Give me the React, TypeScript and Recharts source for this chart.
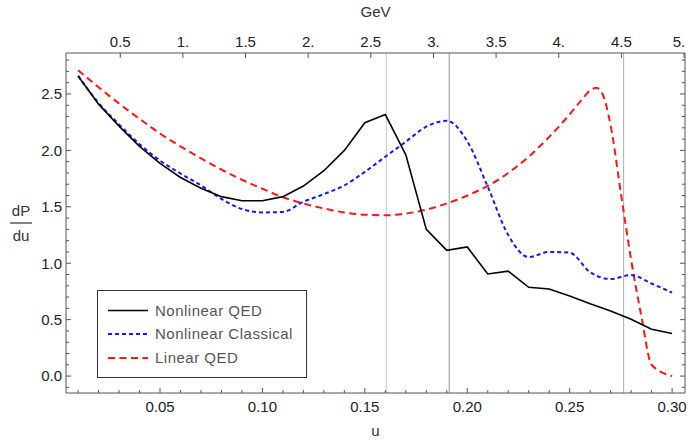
import { LineChart, Line, XAxis, YAxis, ReferenceLine, Legend, Label } from "recharts";

// photon spectrum dP/du, sampled in u
const uValues = [
  0.01, 0.02, 0.03, 0.04, 0.05, 0.06, 0.07, 0.08, 0.09, 0.1,
  0.11, 0.12, 0.13, 0.14, 0.15, 0.16, 0.17, 0.18, 0.19, 0.2,
  0.21, 0.22, 0.23, 0.24, 0.25, 0.26, 0.27, 0.28, 0.29, 0.3,
];
const nonlinearQED = [
  2.66, 2.41, 2.215, 2.035, 1.885, 1.76, 1.665, 1.59, 1.554, 1.554,
  1.59, 1.684, 1.82, 2.0, 2.245, 2.317, 1.96, 1.3, 1.114, 1.144,
  0.905, 0.93, 0.787, 0.772, 0.71, 0.64, 0.577, 0.503, 0.415, 0.378,
];
const nonlinearClassical = [
  2.66, 2.42, 2.23, 2.055, 1.91, 1.795, 1.69, 1.57, 1.48, 1.45,
  1.455, 1.545, 1.613, 1.69, 1.81, 1.944, 2.077, 2.21, 2.263, 2.08,
  1.678, 1.25, 1.055, 1.1, 1.093, 0.92, 0.86, 0.895, 0.82, 0.74,
];
const linearU = [
  0.01, 0.02, 0.03, 0.04, 0.05, 0.06, 0.07, 0.08, 0.09, 0.1,
  0.11, 0.12, 0.13, 0.14, 0.15, 0.16, 0.17, 0.18, 0.19, 0.2,
  0.21, 0.22, 0.23, 0.24, 0.25, 0.255, 0.26, 0.263, 0.266, 0.27,
  0.275, 0.28, 0.285, 0.29, 0.3,
];
const linearQED = [
  2.71, 2.56, 2.415, 2.28, 2.15, 2.035, 1.93, 1.83, 1.74, 1.66,
  1.585, 1.53, 1.485, 1.45, 1.43, 1.425, 1.44, 1.475, 1.53, 1.6,
  1.685, 1.8, 1.945, 2.12, 2.32, 2.43, 2.53, 2.556, 2.5, 2.22,
  1.62, 1.03, 0.53, 0.1, 0.0,
];
const markerU = [0.1605, 0.1912, 0.2763];

const uTicks = [
  0.01, 0.02, 0.03, 0.04, 0.05, 0.06, 0.07, 0.08, 0.09, 0.1,
  0.11, 0.12, 0.13, 0.14, 0.15, 0.16, 0.17, 0.18, 0.19, 0.2,
  0.21, 0.22, 0.23, 0.24, 0.25, 0.26, 0.27, 0.28, 0.29, 0.3,
];
const yTicks = [
  -0.1, 0, 0.1, 0.2, 0.3, 0.4, 0.5, 0.6, 0.7, 0.8, 0.9, 1, 1.1, 1.2, 1.3, 1.4,
  1.5, 1.6, 1.7, 1.8, 1.9, 2, 2.1, 2.2, 2.3, 2.4, 2.5, 2.6, 2.7, 2.8,
];
const gevTicks = [0.5, 1, 1.5, 2, 2.5, 3, 3.5, 4, 4.5, 5];
const gevLabels = ["0.5", "1.", "1.5", "2.", "2.5", "3.", "3.5", "4.", "4.5", "5."];

const seriesNames = ["Nonlinear QED", "Nonlinear Classical", "Linear QED"];

const qedData = uValues.map((u, i) => ({ u, v: nonlinearQED[i] }));
const classicalData = uValues.map((u, i) => ({ u, v: nonlinearClassical[i] }));
const linearData = linearU.map((u, i) => ({ u, v: linearQED[i] }));
// invisible series so the GeV axis and the right frame get a scale
const frameData = gevTicks.map((g) => ({ gev: g, v: 0 }));

const FONT = "'Liberation Sans', Arial, sans-serif";
const FRAME = "#555";
const TICK_TEXT = "#222";
const markerColors = ["#d2d2d2", "#a8a8a8", "#b8b8b8"];

const onStep = (v: number, step: number) =>
  Math.abs(v / step - Math.round(v / step)) < 1e-6;

function BottomTick({ x, y, payload }: any) {
  const v = payload.value;
  const major = onStep(v, 0.05);
  return (
    <g>
      <line x1={x} x2={x} y1={y} y2={y - (major ? 5 : 3)} stroke={FRAME} />
      {major && (
        <text x={x} y={y + 19} textAnchor="middle" fontSize={15} fontFamily={FONT} fill={TICK_TEXT}>
          {v.toFixed(2)}
        </text>
      )}
    </g>
  );
}

function TopTick({ x, y, payload }: any) {
  const idx = gevTicks.indexOf(payload.value);
  // keep the last label inside the picture
  const tx = Math.min(x, 679);
  return (
    <g>
      <line x1={x} x2={x} y1={y} y2={y + 5} stroke={FRAME} />
      <text x={tx} y={y - 6.5} textAnchor="middle" fontSize={15} fontFamily={FONT} fill={TICK_TEXT}>
        {idx >= 0 ? gevLabels[idx] : String(payload.value)}
      </text>
    </g>
  );
}

function LeftTick({ x, y, payload }: any) {
  const v = payload.value;
  const major = onStep(v, 0.5);
  return (
    <g>
      <line x1={x} x2={x + (major ? 5 : 3)} y1={y} y2={y} stroke={FRAME} />
      {major && (
        <text x={x - 4} y={y + 5.3} textAnchor="end" fontSize={15} fontFamily={FONT} fill={TICK_TEXT}>
          {v.toFixed(1)}
        </text>
      )}
    </g>
  );
}

function RightTick({ x, y, payload }: any) {
  const major = onStep(payload.value, 0.5);
  return <line x1={x} x2={x - (major ? 5 : 3)} y1={y} y2={y} stroke={FRAME} />;
}

function FractionLabel({ viewBox }: any) {
  const cx = viewBox.x + 21;
  const cy = viewBox.y + viewBox.height / 2;
  return (
    <g fontFamily={FONT} fontSize={15} fill="#333">
      <text x={cx} y={cy - 7} textAnchor="middle">dP</text>
      <line x1={cx - 11} x2={cx + 11} y1={cy} y2={cy} stroke="#333" strokeWidth={1.2} />
      <text x={cx} y={cy + 18} textAnchor="middle">du</text>
    </g>
  );
}

const legendStyles = [
  { color: "#000", dash: undefined, width: 1.6 },
  { color: "#1515ff", dash: "4 3", width: 2 },
  { color: "#ff1515", dash: "7 4.5", width: 2 },
];

function LegendBox() {
  const rows = [20.5, 44, 68];
  return (
    <div
      style={{
        width: 210,
        height: 88,
        boxSizing: "border-box",
        border: "1.5px solid #333",
        background: "#fff",
        position: "relative",
        fontFamily: FONT,
      }}
    >
      <svg width={210} height={88} style={{ position: "absolute", left: -1.5, top: -1.5 }}>
        {seriesNames.map((name, i) => (
          <g key={name}>
            <line
              x1={11}
              x2={51}
              y1={rows[i]}
              y2={rows[i]}
              stroke={legendStyles[i].color}
              strokeWidth={legendStyles[i].width}
              strokeDasharray={legendStyles[i].dash}
            />
            <text x={58} y={rows[i] + 5.3} fontSize={15} letterSpacing={0.5} fill="#555">
              {name}
            </text>
          </g>
        ))}
      </svg>
    </div>
  );
}

export default function App() {
  return (
    <div style={{ position: "absolute", left: 0, top: 0, width: 688, height: 440, background: "#fff" }}>
      <LineChart width={688} height={440} margin={{ top: 0, right: 0, bottom: 0, left: 0 }}>
        <XAxis
          xAxisId="bottom"
          dataKey="u"
          type="number"
          orientation="bottom"
          domain={[0.0041, 0.3063]}
          allowDataOverflow
          ticks={uTicks}
          interval={0}
          height={47}
          tickSize={0}
          tickMargin={0}
          tickLine={false}
          tick={<BottomTick />}
          stroke={FRAME}
        >
          <Label
            content={({ viewBox }: any) => (
              <text x={viewBox.x + viewBox.width / 2} y={viewBox.y + 43} textAnchor="middle" fontSize={15} fontFamily={FONT} fill="#333">
                u
              </text>
            )}
          />
        </XAxis>
        <XAxis
          xAxisId="top"
          dataKey="gev"
          type="number"
          orientation="top"
          domain={[0.067, 5.008]}
          allowDataOverflow
          ticks={gevTicks}
          interval={0}
          height={53}
          tickSize={0}
          tickMargin={0}
          tickLine={false}
          tick={<TopTick />}
          stroke={FRAME}
        >
          <Label
            content={({ viewBox }: any) => (
              <text x={viewBox.x + viewBox.width / 2} y={viewBox.y + 17} textAnchor="middle" fontSize={15} fontFamily={FONT} fill="#333">
                GeV
              </text>
            )}
          />
        </XAxis>
        <YAxis
          yAxisId="left"
          type="number"
          domain={[-0.15, 2.863]}
          allowDataOverflow
          ticks={yTicks}
          interval={0}
          width={66}
          tickSize={0}
          tickMargin={0}
          tickLine={false}
          tick={<LeftTick />}
          stroke={FRAME}
        >
          <Label content={<FractionLabel />} />
        </YAxis>
        <YAxis
          yAxisId="right"
          orientation="right"
          type="number"
          domain={[-0.15, 2.863]}
          allowDataOverflow
          ticks={yTicks}
          interval={0}
          width={3}
          tickSize={0}
          tickMargin={0}
          tickLine={false}
          tick={<RightTick />}
          stroke={FRAME}
        />
        {markerU.map((u, i) => (
          <ReferenceLine key={u} xAxisId="bottom" yAxisId="left" x={u} stroke={markerColors[i]} strokeWidth={1.2} />
        ))}
        <Line
          xAxisId="top"
          yAxisId="right"
          data={frameData}
          dataKey="v"
          stroke="none"
          dot={false}
          activeDot={false}
          legendType="none"
          isAnimationActive={false}
        />
        <Line
          xAxisId="bottom"
          yAxisId="left"
          data={linearData}
          dataKey="v"
          type="monotone"
          stroke="#ff1515"
          strokeWidth={2}
          strokeDasharray="7 4.5"
          dot={false}
          isAnimationActive={false}
        />
        <Line
          xAxisId="bottom"
          yAxisId="left"
          data={classicalData}
          dataKey="v"
          type="monotone"
          stroke="#1515ff"
          strokeWidth={2}
          strokeDasharray="4 3"
          dot={false}
          isAnimationActive={false}
        />
        <Line
          xAxisId="bottom"
          yAxisId="left"
          data={qedData}
          dataKey="v"
          type="linear"
          stroke="#000"
          strokeWidth={1.6}
          dot={false}
          isAnimationActive={false}
        />
        <Legend
          layout="horizontal"
          verticalAlign="middle"
          align="center"
          wrapperStyle={{ left: 97, top: 290, width: 210, height: 88 }}
          content={() => <LegendBox />}
        />
      </LineChart>
    </div>
  );
}
